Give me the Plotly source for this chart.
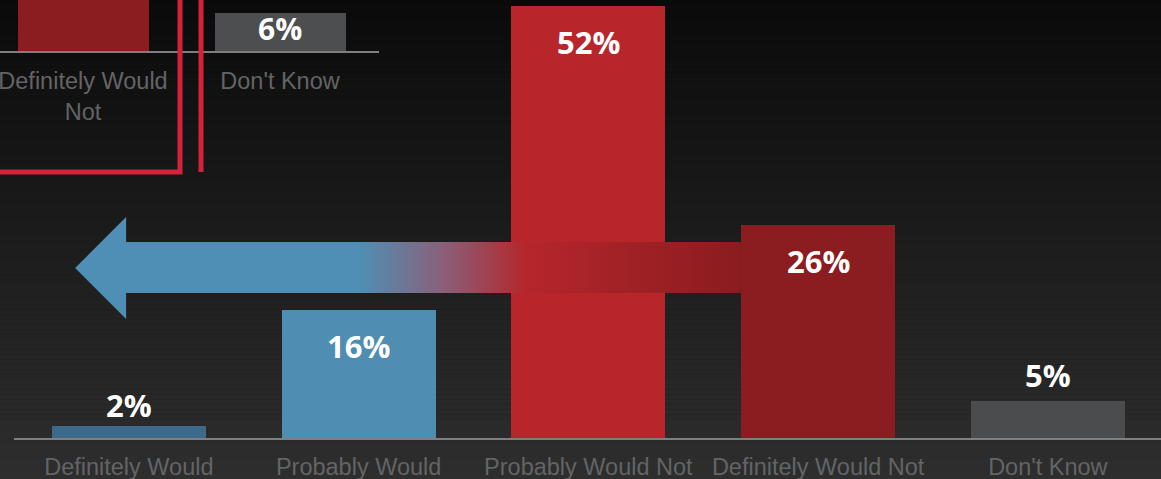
import plotly.graph_objects as go

# ---------------- data ----------------
categories = ["Definitely Would", "Probably Would", "Probably Would Not",
              "Definitely Would Not", "Don't Know"]
values = [1.5, 15.4, 52.0, 25.7, 4.5]          # bar heights (%)
label_text = ["2%", "16%", "52%", "26%", "5%"]   # printed labels
bar_colors = ["#3c6a8a", "#4f8db3", "#b8262c", "#8b1c1f", "#4b4c4e"]

inset_categories = ["Definitely Would<br>Not", "Don't Know"]
inset_values = [30.0, 6.0]                        # first bar is cut off at the top
inset_labels = ["", "6%"]
inset_colors = ["#8b1c1f", "#4d4e50"]

W, H = 1161, 479
fig = go.Figure()

# ---------------- main bars ----------------
xpos = list(range(len(categories)))
fig.add_trace(go.Bar(x=xpos, y=values, marker=dict(color=bar_colors, line=dict(width=0)),
                     width=0.671, hoverinfo="skip", xaxis="x", yaxis="y"))

# arrow (decoration) in data units
tip_x, head_x, end_x = -0.234, -0.012, 2.664
tip_y, head_top, head_bot, shaft_top, shaft_bot = 20.48, 26.63, 14.34, 23.61, 17.47
fig.add_trace(go.Scatter(
    x=[tip_x, head_x, head_x, end_x, end_x, head_x, head_x, tip_x],
    y=[tip_y, head_top, shaft_top, shaft_top, shaft_bot, shaft_bot, head_bot, tip_y],
    mode="lines", line=dict(width=0, color="rgba(0,0,0,0)"), fill="toself",
    fillgradient=dict(type="horizontal", start=tip_x, stop=end_x,
                      colorscale=[[0, "#4f8fb5"], [0.428, "#4f8fb5"], [0.55, "#88617a"],
                                  [0.679, "#b5262b"], [1, "#8a1c1f"]]),
    hoverinfo="skip", xaxis="x", yaxis="y"))

# ---------------- inset (cropped chart top-left) ----------------
fig.add_trace(go.Bar(x=[0, 1], y=inset_values, marker=dict(color=inset_colors, line=dict(width=0)),
                     width=0.665, hoverinfo="skip", xaxis="x2", yaxis="y2"))

annotations = []
for i, (v, t) in enumerate(zip(values, label_text)):
    inside = v > 10
    annotations.append(dict(x=i, y=v, xref="x", yref="y", text=t, showarrow=False,
                            yanchor="middle", yshift=-36 if inside else (21 if v < 3 else 26),
                            font=dict(family="Open Sans", size=31, color="white", weight="bold")))
for i, (v, t) in enumerate(zip(inset_values, inset_labels)):
    if t:
        annotations.append(dict(x=i, y=v, xref="x2", yref="y2", text=t, showarrow=False,
                                yanchor="middle", yshift=-15,
                                font=dict(family="Open Sans", size=30, color="white", weight="bold")))

# ---------------- background gradient + outline ----------------
shapes = []
n_bands = 96
for k in range(n_bands):
    y0 = k / n_bands
    y1 = (k + 1) / n_bands
    frac = 1 - (y0 + y1) / 2          # 0 at top, 1 at bottom
    c = int(round(10 + 36 * frac))
    shapes.append(dict(type="rect", xref="paper", yref="paper", x0=0, x1=1, y0=y0, y1=y1,
                       fillcolor=f"rgb({c},{c},{c})", line=dict(width=0), layer="below"))

def px(x):
    return x / W

def py(y):
    return 1 - y / H

red = "#d3223a"
shapes.append(dict(type="path", xref="paper", yref="paper",
                   path=f"M {px(180)} {py(-5)} L {px(180)} {py(172)} L {px(-5)} {py(172)}",
                   line=dict(color=red, width=5)))
shapes.append(dict(type="line", xref="paper", yref="paper", x0=px(201), x1=px(201),
                   y0=py(-5), y1=py(172), line=dict(color=red, width=5)))

tick_font = dict(family="Liberation Sans, Arial", size=23.5, color="#636466")

fig.update_layout(
    width=W, height=H, margin=dict(l=0, r=0, t=0, b=0),
    paper_bgcolor="#1c1c1c", plot_bgcolor="rgba(0,0,0,0)",
    showlegend=False, bargap=0, shapes=shapes, annotations=annotations,
    xaxis=dict(domain=[14 / W, 1], range=[-0.5, 4.4925], tickvals=xpos, ticktext=categories,
               showgrid=False, zeroline=False, showline=True, linecolor="#7f7f7f", linewidth=2,
               ticks="", tickfont=tick_font, automargin=False, fixedrange=True,
               ticklabelstandoff=7, ticklabeloverflow="allow"),
    yaxis=dict(domain=[41 / H, 1], range=[0, 438 / 8.3], showgrid=False, zeroline=False,
               showticklabels=False, showline=False, automargin=False),
    xaxis2=dict(domain=[0, 378.5 / W], range=[-83 / 197, 1.5], anchor="y2",
                tickvals=[0, 1], ticktext=inset_categories,
                showgrid=False, zeroline=False, showline=True, linecolor="#7f7f7f", linewidth=2,
                ticks="", tickfont=tick_font, automargin=False,
                ticklabelstandoff=8, ticklabeloverflow="allow"),
    yaxis2=dict(domain=[(H - 51) / H, 1], range=[0, 51 / 6.33], anchor="x2", showgrid=False,
                zeroline=False, showticklabels=False, showline=False, automargin=False),
)

fig.write_html("out.html", config={"displayModeBar": False},
               post_script="document.body.style.margin='0px';document.body.style.overflow='hidden';")
